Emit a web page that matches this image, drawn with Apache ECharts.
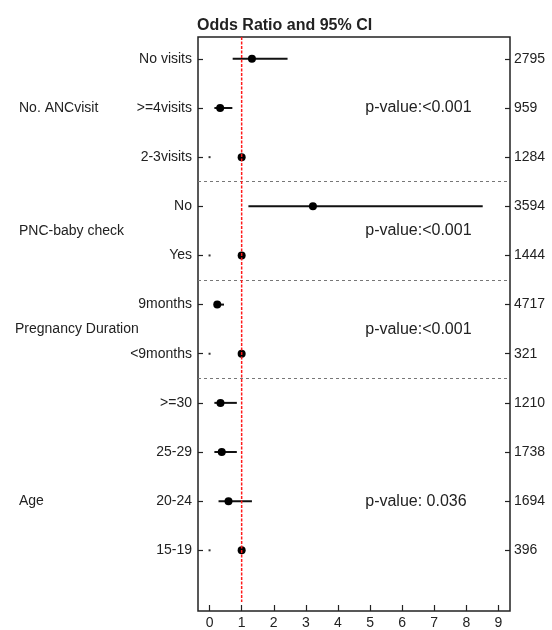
<!DOCTYPE html>
<html>
<head>
<meta charset="utf-8">
<script src="https://cdn.jsdelivr.net/npm/echarts@6/dist/echarts.min.js"></script>
<style>
html,body{margin:0;padding:0;background:#fff;}
#chart{width:552px;height:630px;}
</style>
</head>
<body>
<div id="chart"></div>
<script>
// ---- data ----
const categories = ['No visits', '>=4visits', '2-3visits', 'No', 'Yes', '9months', '<9months', '>=30', '25-29', '20-24', '15-19'];
const oddsRatio = [1.32, 0.33, 1, 3.22, 1, 0.24, 1, 0.34, 0.38, 0.59, 1];
const ciLower   = [0.72, 0.15, 0, 1.21, 0, 0.14, 0, 0.15, 0.15, 0.28, 0];
const ciUpper   = [2.43, 0.71, 0, 8.51, 0, 0.45, 0, 0.85, 0.85, 1.32, 0];
const counts = [2795, 959, 1284, 3594, 1444, 4717, 321, 1210, 1738, 1694, 396];
const groupNames = ['No. ANCvisit', 'PNC-baby check', 'Pregnancy Duration', 'Age'];
const groupRows = [2, 4.5, 6.5, 10];
const pValues = ['p-value:<0.001', 'p-value:<0.001', 'p-value:<0.001', 'p-value: 0.036'];
const pValueRows = [2, 4.5, 6.5, 10];
const separators = [3.5, 5.5, 7.5];
const xTicks = [0, 1, 2, 3, 4, 5, 6, 7, 8, 9];
const refLineX = 1;
const titleText = 'Odds Ratio and 95% CI';

// ---- layout ----
const FONT = 'Liberation Sans, Arial, sans-serif';
const TXT = '#222';
const rows = categories.map((c, i) => i + 1);
const yMin = 0.555, yMax = 12.235;
const xMin = -0.36, xMax = 9.36;
const pValueX = 4.85;
const groupLeft = [19, 19, 15, 19];

const chart = echarts.init(document.getElementById('chart'), null, {renderer: 'canvas'});

const yAxisBase = {
  type: 'value', min: yMin, max: yMax, inverse: true,
  axisLine: {show: false, onZero: false}, splitLine: {show: false},
  axisTick: {show: true, inside: true, length: 5, customValues: rows, lineStyle: {color: TXT, width: 1.2}},
};

const option = {
  backgroundColor: '#fff',
  animation: false,
  title: {
    text: titleText, left: 197, top: 18, padding: 0,
    textStyle: {fontFamily: FONT, fontSize: 16, fontWeight: 'bold', color: TXT}
  },
  grid: {left: 198, right: 42, top: 37, bottom: 16, show: true, borderColor: TXT, borderWidth: 1.5, backgroundColor: 'transparent'},
  xAxis: {
    type: 'value', min: xMin, max: xMax,
    axisLine: {show: false, onZero: false}, splitLine: {show: false},
    axisTick: {show: true, inside: true, length: 6, customValues: xTicks, lineStyle: {color: TXT, width: 1.2}},
    axisLabel: {customValues: xTicks, fontFamily: FONT, fontSize: 14, color: TXT, margin: 5}
  },
  yAxis: [
    Object.assign({}, yAxisBase, {
      position: 'left',
      axisLabel: {customValues: rows, formatter: v => categories[Math.round(v) - 1], fontFamily: FONT, fontSize: 14, color: TXT, margin: 6}
    }),
    Object.assign({}, yAxisBase, {
      position: 'right',
      axisLabel: {customValues: rows, formatter: v => String(counts[Math.round(v) - 1]), fontFamily: FONT, fontSize: 14, color: TXT, margin: 4}
    })
  ],
  series: [
    {
      type: 'custom',
      z: 2,
      data: rows.map((r, i) => [ciLower[i], ciUpper[i], r]),
      encode: {x: [0, 1], y: 2},
      renderItem: function (params, api) {
        const p1 = api.coord([api.value(0), api.value(2)]);
        const p2 = api.coord([api.value(1), api.value(2)]);
        if (api.value(0) === api.value(1)) {
          return {type: 'rect', shape: {x: p1[0] - 1, y: p1[1] - 1, width: 2, height: 2}, style: {fill: '#333'}};
        }
        return {type: 'line', shape: {x1: p1[0], y1: p1[1], x2: p2[0], y2: p2[1]}, style: {stroke: '#111', lineWidth: 2}};
      }
    },
    {
      type: 'scatter',
      z: 3,
      symbol: 'circle',
      symbolSize: 8,
      itemStyle: {color: '#000', opacity: 1},
      data: rows.map((r, i) => [oddsRatio[i], r]),
      markLine: {
        silent: true, symbol: ['none', 'none'], animation: false,
        label: {show: false},
        lineStyle: {color: '#777', type: [3, 3], width: 1},
        data: separators.map(s => ({yAxis: s}))
      }
    },
    {
      type: 'line',
      z: 5,
      symbol: 'none',
      color: '#ff0000',
      lineStyle: {color: '#ff1a1a', type: [3, 1.5], width: 1.5, opacity: 1},
      data: [[refLineX, yMin], [refLineX, 12.05]]
    },
    {
      type: 'scatter',
      z: 4,
      symbolSize: 0,
      itemStyle: {opacity: 1},
      data: pValueRows.map((r, i) => ({value: [pValueX, r], label: {formatter: pValues[i]}})),
      label: {show: true, position: 'right', distance: 0, fontFamily: FONT, fontSize: 16, color: TXT}
    }
  ]
};

chart.setOption(option);

const graphics = groupNames.map((g, i) => {
  const py = chart.convertToPixel({yAxisIndex: 0}, groupRows[i]);
  return {
    type: 'text', left: groupLeft[i], top: py - 7,
    style: {text: g, fontFamily: FONT, fontSize: 14, fill: TXT, textVerticalAlign: 'top'}
  };
});
chart.setOption({graphic: graphics});
</script>
</body>
</html>
